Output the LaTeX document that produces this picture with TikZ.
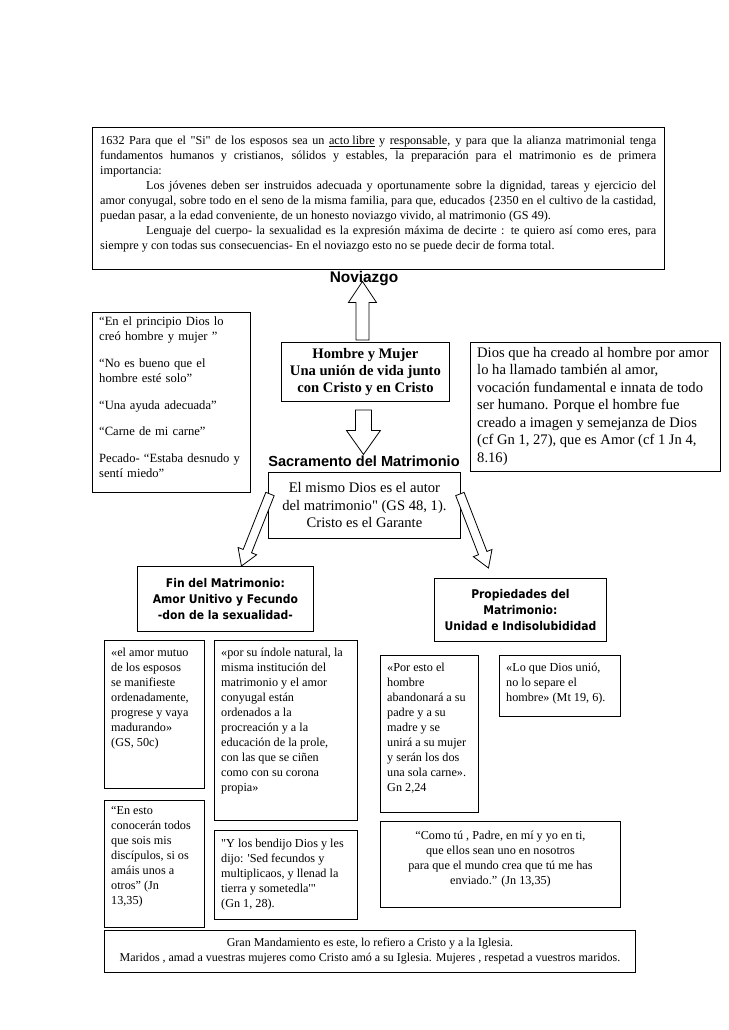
\documentclass[tikz,border=0pt]{standalone}
\usepackage{fontspec}
\setmainfont{Liberation Serif}
\newfontfamily\headfont{Liberation Sans}
\newfontfamily\impactfont{DejaVu Sans Condensed}
\usetikzlibrary{positioning,calc}

\tikzset{
  % empty frame of a box
  boxframe/.style={draw=black, line width=0.9pt, anchor=north west, inner sep=0pt},
  % text set from the upper left corner of a frame
  qtext/.style={anchor=north west, inner xsep=8pt, inner ysep=6pt, align=left,
                font=\fontsize{12.2}{15}\selectfont},
  % centred text inside a frame
  ctext/.style={align=center, inner sep=0pt, font=\fontsize{12.2}{15}\selectfont},
  % headings between the boxes
  title/.style={inner sep=0pt, font=\headfont\bfseries\fontsize{14.6}{16}\selectfont},
  % bold condensed labels
  impact/.style={align=center, inner sep=0pt,
                 font=\impactfont\bfseries\fontsize{12}{16.2}\selectfont},
  % hollow block arrows
  blockarr/.style={draw=black, line width=0.8pt, fill=white, line join=miter},
}

% hollow arrow: tail, tip, half shaft, half head, head length
\newcommand{\blockarrow}[5]{%
  \path ($(#2)!#5!(#1)$) coordinate (neck);
  \draw[blockarr] ($(#1)!#3!90:(#2)$) -- ($(neck)!#3!90:(#2)$)
    -- ($(neck)!#4!90:(#2)$) -- (#2) -- ($(neck)!#4!-90:(#2)$)
    -- ($(neck)!#3!-90:(#2)$) -- ($(#1)!#3!-90:(#2)$) -- cycle;}

\begin{document}
\begin{tikzpicture}[x=1pt,y=-1pt]
  \useasboundingbox (0,0) rectangle (728,1030);

    %% ── Catecismo 1632 ─────────────────────────────────────
    \node[boxframe, minimum width=572pt, minimum height=142pt] (cat) at (92,127) {};
    \node[qtext, text width=556pt, align=justify, inner ysep=9pt] (cattxt) at (cat.north west)
      {1632 Para que el \textquotedbl Si\textquotedbl{} de los esposos sea un
       \underline{acto libre} y \underline{responsable}, y para que la alianza
       matrimonial tenga\linebreak
       fundamentos humanos y cristianos, sólidos y estables, la preparación para el
       matrimonio es de primera\linebreak importancia:\par
       \hspace*{46pt}Los jóvenes deben ser instruidos adecuada y oportunamente sobre la
       dignidad, tareas y ejercicio del\linebreak amor conyugal, sobre todo en el seno de
       la misma familia, para que, educados \{2350 en el cultivo de la castidad,\linebreak
       puedan pasar, a la edad conveniente, de un honesto noviazgo vivido, al matrimonio
       (GS 49).\par
       \hspace*{46pt}Lenguaje del cuerpo- la sexualidad es la expresión máxima de
       decirte : te quiero así como eres, para\linebreak siempre y con todas sus
       consecuencias- En el noviazgo esto no se puede decir de forma total.};

    \node[title, font=\headfont\bfseries\fontsize{15.4}{16}\selectfont] (nov) at (364,279)
      {Noviazgo};

    %% ── Génesis ────────────────────────────────────────────
    \node[boxframe, minimum width=158pt, minimum height=180pt] (gen) at (92,312) {};
    \node[qtext, text width=144pt, inner xsep=7pt, inner ysep=5pt,
          font=\fontsize{12.6}{14.8}\selectfont] (gentxt) at (gen.north west)
      {“En el principio Dios lo\\creó hombre y mujer ”\\[12pt]
       “No es bueno que el\\hombre esté solo”\\[12pt]
       “Una ayuda adecuada”\\[12pt]
       “Carne de mi carne”\\[12pt]
       Pecado- “Estaba desnudo y\\sentí miedo”};

    %% ── Hombre y Mujer ─────────────────────────────────────
    \node[boxframe, minimum width=168pt, minimum height=59pt] (hom) at (281,342) {};
    \node[ctext, font=\bfseries\fontsize{14.6}{16.8}\selectfont] (homtxt) at (hom.center)
      {Hombre y Mujer\\Una unión de vida junto\\con Cristo y en Cristo};

    \node[boxframe, minimum width=250pt, minimum height=129pt] (amor) at (470,342) {};
    \node[qtext, inner xsep=7pt, inner ysep=5pt,
          font=\fontsize{14.6}{17.5}\selectfont] (amortxt) at (amor.north west)
      {Dios que ha creado al hombre por amor\\lo ha llamado también al amor,\\
       vocación fundamental e innata de todo\\ser humano. Porque el hombre fue\\
       creado a imagen y semejanza de Dios\\(cf Gn 1, 27), que es Amor (cf 1 Jn 4,\\
       8.16)};

    %% ── Sacramento ─────────────────────────────────────────
    \node[title] (sac) at (364,461) {Sacramento del Matrimonio};

    \node[boxframe, minimum width=192pt, minimum height=66pt] (autor) at (268,472) {};
    \node[ctext, font=\fontsize{14.6}{17.5}\selectfont] (autortxt) at (autor.center)
      {El mismo Dios es el autor\\del matrimonio\textquotedbl{} (GS 48, 1).\\
       Cristo es el Garante};

    \node[boxframe, minimum width=176pt, minimum height=65pt] (fin) at (137,566) {};
    \node[impact] (fintxt) at (fin.center)
      {Fin del Matrimonio:\\Amor Unitivo y Fecundo\\-don de la sexualidad-};

    \node[boxframe, minimum width=172pt, minimum height=63pt] (prop) at (434,578) {};
    \node[impact] (proptxt) at (prop.center)
      {Propiedades del\\Matrimonio:\\Unidad e Indisolubididad};

    %% ── Citas: fin ─────────────────────────────────────────
    \node[boxframe, minimum width=100pt, minimum height=148pt] (mutuo) at (104,640) {};
    \node[qtext, inner xsep=7pt, inner ysep=8pt] (mutuotxt) at (mutuo.north west)
      {«el amor mutuo\\de los esposos\\se manifieste\\ordenadamente,\\progrese y vaya\\
       madurando»\\(GS, 50c)};

    \node[boxframe, minimum width=143pt, minimum height=180pt] (indole) at (214,640) {};
    \node[qtext, inner xsep=7pt, inner ysep=8pt] (indoletxt) at (indole.north west)
      {«por su índole natural, la\\misma institución del\\matrimonio y el amor\\
       conyugal están\\ordenados a la\\procreación y a la\\educación de la prole,\\
       con las que se ciñen\\como con su corona\\propia»};

    \node[boxframe, minimum width=100pt, minimum height=127pt] (jn) at (104,800) {};
    \node[qtext, inner xsep=7pt] (jntxt) at (jn.north west)
      {“En esto\\conocerán todos\\que sois mis\\discípulos, si os\\amáis unos a\\
       otros” (Jn\\13,35)};

    \node[boxframe, minimum width=143pt, minimum height=89pt] (gn) at (214,830) {};
    \node[qtext, inner xsep=7pt, inner ysep=9pt] (gntxt) at (gn.north west)
      {\textquotedbl Y los bendijo Dios y les\\dijo: \textquotesingle Sed fecundos y\\
       multiplicaos, y llenad la\\tierra y sometedla\textquotesingle\textquotedbl\\
       (Gn 1, 28).};

    %% ── Citas: propiedades ─────────────────────────────────
    \node[boxframe, minimum width=98pt, minimum height=157pt] (carne) at (380,655) {};
    \node[qtext, inner xsep=7pt, inner ysep=8pt] (carnetxt) at (carne.north west)
      {«Por esto el\\hombre\\abandonará a su\\padre y a su\\madre y se\\
       unirá a su mujer\\y serán los dos\\una sola carne».\\Gn 2,24};

    \node[boxframe, minimum width=121pt, minimum height=61pt] (mt) at (499,655) {};
    \node[qtext, inner xsep=7pt, inner ysep=8pt] (mttxt) at (mt.north west)
      {«Lo que Dios unió,\\no lo separe el\\hombre» (Mt 19, 6).};

    \node[boxframe, minimum width=240pt, minimum height=86pt] (padre) at (380,821) {};
    \node[ctext, anchor=north] (padretxt) at ($(padre.north)+(0,10)$)
      {“Como tú , Padre, en mí y yo en ti,\\que ellos sean uno en nosotros\\
       para que el mundo crea que tú me has\\enviado.” (Jn 13,35)};

    %% ── Gran Mandamiento ───────────────────────────────────
    \node[boxframe, minimum width=531pt, minimum height=42pt] (efe) at (104,930) {};
    \node[ctext, font=\fontsize{12}{15}\selectfont] (efetxt) at (efe.center)
      {Gran Mandamiento es este, lo refiero a Cristo y a la Iglesia.\\
       Maridos , amad a vuestras mujeres como Cristo amó a su Iglesia. Mujeres ,
       respetad a vuestros maridos.};

    %% ── Flechas ────────────────────────────────────────────
    \coordinate (upTail) at ($(hom.north)+(-3,-2)$);
    \coordinate (upTip)  at ($(upTail |- nov.south)+(0,-5)$);
    \blockarrow{upTail}{upTip}{6.5pt}{14pt}{21pt}

    \coordinate (dnTail) at ($(hom.south)+(-2,8)$);
    \coordinate (dnTip)  at ($(dnTail |- sac.north)+(0,-1)$);
    \blockarrow{dnTail}{dnTip}{8pt}{17pt}{24pt}

    \coordinate (lTail) at ($(autor.north west)+(2,22)$);
    \coordinate (lTip)  at ($(fin.north)+(16,0)$);
    \blockarrow{lTail}{lTip}{4.5pt}{10pt}{16pt}

    \coordinate (rTail) at ($(autor.north east)+(-1,22)$);
    \coordinate (rTip)  at ($(prop.north)+(-32,-10)$);
    \blockarrow{rTail}{rTip}{4.5pt}{10pt}{16pt}

\end{tikzpicture}
\end{document}
